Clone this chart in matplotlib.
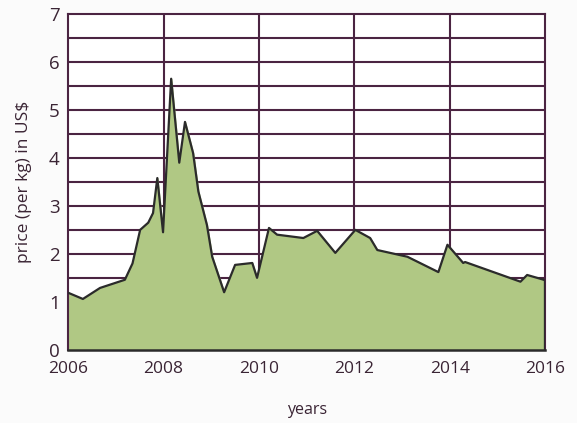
import matplotlib.pyplot as plt
import numpy as np

# datos
years = [2006.0, 2006.31, 2006.67, 2007.19, 2007.35, 2007.51, 2007.68, 2007.78,
         2007.87, 2007.99, 2008.16, 2008.33, 2008.45, 2008.62, 2008.73, 2008.91,
         2009.02, 2009.27, 2009.50, 2009.86, 2009.96, 2010.21, 2010.38, 2010.93,
         2011.22, 2011.60, 2012.02, 2012.33, 2012.48, 2013.11, 2013.76, 2013.95,
         2014.28, 2014.32, 2015.48, 2015.62, 2015.90, 2016.0]
prices = [1.19, 1.06, 1.29, 1.46, 1.8, 2.5, 2.65, 2.85,
          3.58, 2.45, 5.65, 3.9, 4.75, 4.1, 3.3, 2.6,
          1.94, 1.2, 1.77, 1.81, 1.5, 2.54, 2.4, 2.33,
          2.48, 2.02, 2.5, 2.33, 2.08, 1.94, 1.62, 2.19,
          1.81, 1.83, 1.42, 1.56, 1.48, 1.45]
xticks = [2006, 2008, 2010, 2012, 2014, 2016]
yticks = [0, 1, 2, 3, 4, 5, 6, 7]

grid_col = '#4b2442'
text_col = '#3a2434'

plt.rcParams['font.family'] = ['Open Sans', 'DejaVu Sans']

fig = plt.figure(figsize=(5.77, 4.23), dpi=100)
ax = fig.add_axes([0.118, 0.173, 0.827, 0.794])

# grilla debajo del relleno
for yv in np.arange(0.5, 7.0, 0.5):
    ax.axhline(yv, color=grid_col, lw=1.5, zorder=1)
for xv in xticks[1:-1]:
    ax.axvline(xv, color=grid_col, lw=1.5, zorder=1)

ax.fill_between(years, prices, 0, color='#b0c884', zorder=2)
ax.plot(years, prices, color='#2b2b2b', lw=1.6, zorder=3)
ax.plot([2016, 2016], [0, prices[-1]], color='#2b2b2b', lw=1.6, zorder=3)

ax.set_xlim(2006, 2016)
ax.set_ylim(0, 7)
ax.set_xticks(xticks)
ax.set_yticks(yticks)
ax.tick_params(length=0, labelsize=12.5, colors=text_col, pad=8)
ax.tick_params(axis='y', labelsize=13.5, pad=6)

for s in ['left', 'top', 'right']:
    ax.spines[s].set_color(grid_col)
    ax.spines[s].set_linewidth(1.5)
ax.spines['bottom'].set_color('#2b2b2b')
ax.spines['bottom'].set_linewidth(1.8)

ax.set_ylabel('price (per kg) in US$', fontsize=12.5, color=text_col, labelpad=12)
ax.set_xlabel('years', fontsize=11.5, color=text_col, labelpad=18)

fig.savefig('out.png', dpi=100, facecolor='#fbfbfb')
